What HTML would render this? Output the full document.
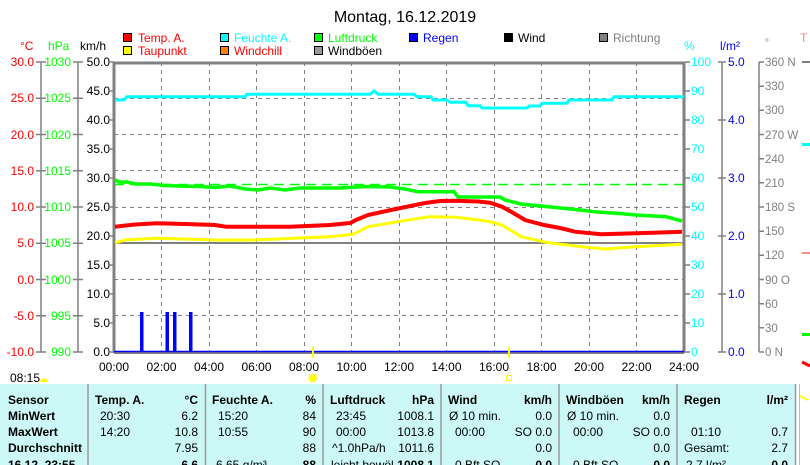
<!DOCTYPE html>
<html><head><meta charset="utf-8"><style>
html,body{margin:0;padding:0;background:#fff;width:810px;height:465px;overflow:hidden}
svg{display:block;font-family:"Liberation Sans",sans-serif;font-size:12px}
.b{font-weight:bold}
</style></head><body>
<svg width="810" height="465" viewBox="0 0 810 465" xmlns="http://www.w3.org/2000/svg">
<text x="405" y="22" text-anchor="middle" font-size="16">Montag, 16.12.2019</text>
<!-- legend -->
<g stroke="#000" stroke-width="1">
<rect x="123.5" y="33.5" width="8" height="8" fill="#f00"/>
<rect x="220.5" y="33.5" width="8" height="8" fill="#0ff"/>
<rect x="314.5" y="33.5" width="8" height="8" fill="#0f0"/>
<rect x="409.5" y="33.5" width="8" height="8" fill="#00f"/>
<rect x="504.5" y="33.5" width="8" height="8" fill="#000"/>
<rect x="599.5" y="33.5" width="8" height="8" fill="#808080"/>
<rect x="123.5" y="46.5" width="8" height="8" fill="#ff0"/>
<rect x="220.5" y="46.5" width="8" height="8" fill="#ff8000"/>
<rect x="314.5" y="46.5" width="8" height="8" fill="#999"/>
</g>
<text x="138" y="42" fill="#f00">Temp. A.</text>
<text x="234" y="42" fill="#0ff">Feuchte A.</text>
<text x="328" y="42" fill="#0f0">Luftdruck</text>
<text x="423" y="42" fill="#00f">Regen</text>
<text x="518" y="42" fill="#000">Wind</text>
<text x="613" y="42" fill="#808080">Richtung</text>
<text x="138" y="55" fill="#f00">Taupunkt</text>
<text x="234" y="55" fill="#f00">Windchill</text>
<text x="328" y="55" fill="#000">Windböen</text>
<!-- unit headers -->
<text x="20" y="50" fill="#f00">°C</text>
<text x="48" y="50" fill="#0f0">hPa</text>
<text x="80" y="50" fill="#000">km/h</text>
<text x="684" y="50" fill="#0ff">%</text>
<text x="720" y="50" fill="#00f">l/m²</text>
<text x="765" y="46" fill="#808080" font-size="10">°</text>
<text x="800" y="42" fill="#f88">T</text>
<!-- grid -->
<g stroke="#808080" stroke-width="1" stroke-dasharray="4,4">
<line x1="114" x2="684" y1="98.5" y2="98.5"/>
<line x1="114" x2="684" y1="134.5" y2="134.5"/>
<line x1="114" x2="684" y1="170.5" y2="170.5"/>
<line x1="114" x2="684" y1="207.5" y2="207.5"/>
<line x1="114" x2="684" y1="279.5" y2="279.5"/>
<line x1="114" x2="684" y1="315.5" y2="315.5"/>
<line x1="161.5" x2="161.5" y1="62" y2="352"/>
<line x1="209.5" x2="209.5" y1="62" y2="352"/>
<line x1="256.5" x2="256.5" y1="62" y2="352"/>
<line x1="304.5" x2="304.5" y1="62" y2="352"/>
<line x1="351.5" x2="351.5" y1="62" y2="352"/>
<line x1="399.5" x2="399.5" y1="62" y2="352"/>
<line x1="446.5" x2="446.5" y1="62" y2="352"/>
<line x1="494.5" x2="494.5" y1="62" y2="352"/>
<line x1="541.5" x2="541.5" y1="62" y2="352"/>
<line x1="589.5" x2="589.5" y1="62" y2="352"/>
<line x1="636.5" x2="636.5" y1="62" y2="352"/>
</g>
<line x1="114" x2="684" y1="243" y2="243" stroke="#808080" stroke-width="2"/>
<line x1="114" x2="684" y1="184.5" y2="184.5" stroke="#0f0" stroke-width="1.5" stroke-dasharray="10,6"/>
<!-- frame -->
<polyline points="114,353 114,63 684,63 684,353" fill="none" stroke="#808080" stroke-width="3"/>
<line x1="114" x2="684" y1="353" y2="353" stroke="#808080" stroke-width="2"/>
<line x1="114" x2="684" y1="351.5" y2="351.5" stroke="#00f" stroke-width="1.5"/>
<!-- left axes -->
<g stroke="#808080" stroke-width="1.5">
<line x1="41" x2="41" y1="62" y2="352"/><line x1="78" x2="78" y1="62" y2="352"/>
<line x1="722" x2="722" y1="62" y2="352"/><line x1="759" x2="759" y1="62" y2="352"/>
</g>
<g stroke="#808080" stroke-width="1.5" id="lt">
<path d="M36 62h10M36 98.25h10M36 134.5h10M36 170.75h10M36 207h10M36 243.25h10M36 279.5h10M36 315.75h10M36 352h10"/>
<path d="M73 62h10M73 98.25h10M73 134.5h10M73 170.75h10M73 207h10M73 243.25h10M73 279.5h10M73 315.75h10M73 352h10"/>
<path d="M110 62h4M110 91h4M110 120h4M110 149h4M110 178h4M110 207h4M110 236h4M110 265h4M110 294h4M110 323h4M110 352h4"/>
<path d="M685 62h5M685 91h5M685 120h5M685 149h5M685 178h5M685 207h5M685 236h5M685 265h5M685 294h5M685 323h5M685 352h5"/>
<path d="M718 62h8M718 120h8M718 178h8M718 236h8M718 294h8M718 352h8"/>
<path d="M759 62h5M759 86.2h5M759 110.3h5M759 134.5h5M759 158.7h5M759 182.8h5M759 207h5M759 231.2h5M759 255.3h5M759 279.5h5M759 303.7h5M759 327.8h5M759 352h5"/>
</g>
<g fill="#f00" text-anchor="end">
<text x="34" y="66">30.0</text><text x="34" y="102">25.0</text><text x="34" y="139">20.0</text><text x="34" y="175">15.0</text><text x="34" y="211">10.0</text><text x="34" y="247">5.0</text><text x="34" y="284">0.0</text><text x="34" y="320">-5.0</text><text x="34" y="356">-10.0</text>
</g>
<g fill="#0f0" text-anchor="end">
<text x="71" y="66">1030</text><text x="71" y="102">1025</text><text x="71" y="139">1020</text><text x="71" y="175">1015</text><text x="71" y="211">1010</text><text x="71" y="247">1005</text><text x="71" y="284">1000</text><text x="71" y="320">995</text><text x="71" y="356">990</text>
</g>
<g fill="#000" text-anchor="end">
<text x="110" y="66">50.0</text><text x="110" y="95">45.0</text><text x="110" y="124">40.0</text><text x="110" y="153">35.0</text><text x="110" y="182">30.0</text><text x="110" y="211">25.0</text><text x="110" y="240">20.0</text><text x="110" y="269">15.0</text><text x="110" y="298">10.0</text><text x="110" y="327">5.0</text><text x="110" y="356">0.0</text>
</g>
<g fill="#0ff">
<text x="691" y="66">100</text><text x="691" y="95">90</text><text x="691" y="124">80</text><text x="691" y="153">70</text><text x="691" y="182">60</text><text x="691" y="211">50</text><text x="691" y="240">40</text><text x="691" y="269">30</text><text x="691" y="298">20</text><text x="691" y="327">10</text><text x="691" y="356">0</text>
</g>
<g fill="#00f">
<text x="728" y="66">5.0</text><text x="728" y="124">4.0</text><text x="728" y="182">3.0</text><text x="728" y="240">2.0</text><text x="728" y="298">1.0</text><text x="728" y="356">0.0</text>
</g>
<g fill="#808080" font-size="11.5">
<text x="765" y="66">360 N</text><text x="765" y="90">330</text><text x="765" y="114">300</text><text x="765" y="139">270 W</text><text x="765" y="163">240</text><text x="765" y="187">210</text><text x="765" y="211">180 S</text><text x="765" y="235">150</text><text x="765" y="259">120</text><text x="765" y="284">90  O</text><text x="765" y="308">60</text><text x="765" y="332">30</text><text x="765" y="356">0   N</text>
</g>
<!-- series -->
<polyline fill="none" stroke="#0ff" stroke-width="3" points="115,100 124,100 127,96.7 245,96.7 247,94.3 370,94.3 374,91 378,94.3 414,94.3 417,96.7 431,96.7 433,100 447,100 450,102.3 466,102.3 468,105.7 480,105.7 482,108 527,108 529,106 540,106 542,103.3 567,103.3 569,100 612,100 614,96.7 684,96.7"/>
<polyline fill="none" stroke="#0f0" stroke-width="3.5" points="115,180 119,182 127,182 135,184 150,184 165,185.5 180,186 200,186.5 215,187.5 230,186 245,189 258,190 270,188 285,190 300,188 320,188 340,188 356,187 368,186.5 390,187 405,189 418,191.7 454,191.7 458,197 500,197 505,200 521,204 548,206.7 571,209 597,212 620,213.5 636,215 666,216.7 682,221"/>
<polyline fill="none" stroke="#f00" stroke-width="4" points="115,226.7 135,224.5 157,223.3 185,224 215,225 226,226.7 290,226.7 330,225 350,223 356,220 368,215 391,210 425,203 440,201 456,200.7 478,201.5 490,202.7 502,206.7 515,214 525,220 544,225 560,228 575,231.7 601,234.3 636,233.3 660,232.5 682,231.7"/>
<polyline fill="none" stroke="#ff0" stroke-width="3" points="115,242.7 125,240 138,239.3 157,238.3 215,240 253,240 300,238 330,236.7 353,234.3 368,226.7 398,221.7 429,216.7 456,217.3 475,219.5 490,221.7 502,225 512,231 521,236.7 548,242.7 582,246.7 605,249 636,246.7 682,244.3"/>
<g fill="#00f">
<rect x="140" y="312" width="3.5" height="40"/><rect x="165.5" y="312" width="3.5" height="40"/><rect x="173" y="312" width="3.5" height="40"/><rect x="189" y="312" width="3.5" height="40"/>
</g>
<rect x="312" y="347" width="2" height="11" fill="#ff0"/>
<rect x="508" y="347" width="2" height="11" fill="#ff0"/>
<!-- time labels -->
<g text-anchor="middle">
<text x="114" y="371">00:00</text><text x="161.5" y="371">02:00</text><text x="209" y="371">04:00</text><text x="256.5" y="371">06:00</text><text x="304" y="371">08:00</text><text x="351.5" y="371">10:00</text><text x="399" y="371">12:00</text><text x="446.5" y="371">14:00</text><text x="494" y="371">16:00</text><text x="541.5" y="371">18:00</text><text x="589" y="371">20:00</text><text x="636.5" y="371">22:00</text><text x="684" y="371">24:00</text>
</g>
<text x="10" y="382">08:15</text>
<path d="M40 382a4 3.5 0 0 1 8 0z" fill="#ff0"/>
<circle cx="313" cy="378" r="4" fill="#ff0" stroke="#ffee80" stroke-width="2" stroke-dasharray="2,1.5"/>
<rect x="506.5" y="375.5" width="5" height="5" fill="none" stroke="#ff0"/>
<!-- right edge bits -->
<rect x="802" y="61" width="8" height="2" fill="#808080"/>
<rect x="802" y="143" width="8" height="3" fill="#0ff"/>
<rect x="802" y="252" width="8" height="2" fill="#f88"/>
<rect x="802" y="333" width="8" height="3" fill="#0f0"/>
<path d="M802 362l8 4" stroke="#f00" stroke-width="3"/>
<path d="M800 396l8 4" stroke="#ff0" stroke-width="2"/>
<!-- table -->
<rect x="0" y="384" width="796" height="81" fill="#ccf8f8"/>
<g stroke="#9a9a9a" stroke-width="1.5">
<line x1="88" x2="88" y1="384" y2="465"/><line x1="205.5" x2="205.5" y1="384" y2="465"/><line x1="323" x2="323" y1="384" y2="465"/><line x1="441" x2="441" y1="384" y2="465"/><line x1="559" x2="559" y1="384" y2="465"/><line x1="677" x2="677" y1="384" y2="465"/><line x1="795.5" x2="795.5" y1="384" y2="465"/>
</g>
<line x1="799.5" x2="799.5" y1="384" y2="465" stroke="#bbb"/>
<g class="b">
<text x="8" y="404">Sensor</text><text x="8" y="420">MinWert</text><text x="8" y="436">MaxWert</text><text x="8" y="452">Durchschnitt</text><text x="8" y="469">16.12. 23:55</text>
<text x="95" y="404">Temp. A.</text><text x="212" y="404">Feuchte A.</text><text x="330" y="404">Luftdruck</text><text x="448" y="404">Wind</text><text x="566" y="404">Windböen</text><text x="684" y="404">Regen</text>
</g>
<g class="b" text-anchor="end">
<text x="198" y="404">°C</text><text x="316" y="404">%</text><text x="434" y="404">hPa</text><text x="552" y="404">km/h</text><text x="670" y="404">km/h</text><text x="788" y="404">l/m²</text>
<text x="198" y="469">6.6</text><text x="316" y="469">88</text><text x="434" y="469">1008.1</text><text x="552" y="469">0.0</text><text x="670" y="469">0.0</text><text x="788" y="469">0.0</text>
</g>
<g>
<text x="100" y="420">20:30</text><text x="100" y="436">14:20</text>
<text x="218" y="420">15:20</text><text x="218" y="436">10:55</text><text x="216" y="469">6.65 g/m³</text>
<text x="336" y="420">23:45</text><text x="336" y="436">00:00</text><text x="332" y="452">^1.0hPa/h</text><text x="331" y="469">leicht bewöl</text>
<text x="449" y="420">Ø 10 min.</text><text x="455" y="436">00:00</text><text x="455" y="469">0 Bft SO</text>
<text x="567" y="420">Ø 10 min.</text><text x="573" y="436">00:00</text><text x="573" y="469">0 Bft SO</text>
<text x="691" y="436">01:10</text><text x="684" y="452">Gesamt:</text><text x="686" y="469">2.7 l/m²</text>
</g>
<g text-anchor="end">
<text x="198" y="420">6.2</text><text x="198" y="436">10.8</text><text x="198" y="452">7.95</text>
<text x="316" y="420">84</text><text x="316" y="436">90</text><text x="316" y="452">88</text>
<text x="434" y="420">1008.1</text><text x="434" y="436">1013.8</text><text x="434" y="452">1011.6</text>
<text x="552" y="420">0.0</text><text x="552" y="436">SO 0.0</text><text x="552" y="452">0.0</text>
<text x="670" y="420">0.0</text><text x="670" y="436">SO 0.0</text><text x="670" y="452">0.0</text>
<text x="788" y="436">0.7</text><text x="788" y="452">2.7</text>
</g>
</svg>
</body></html>
